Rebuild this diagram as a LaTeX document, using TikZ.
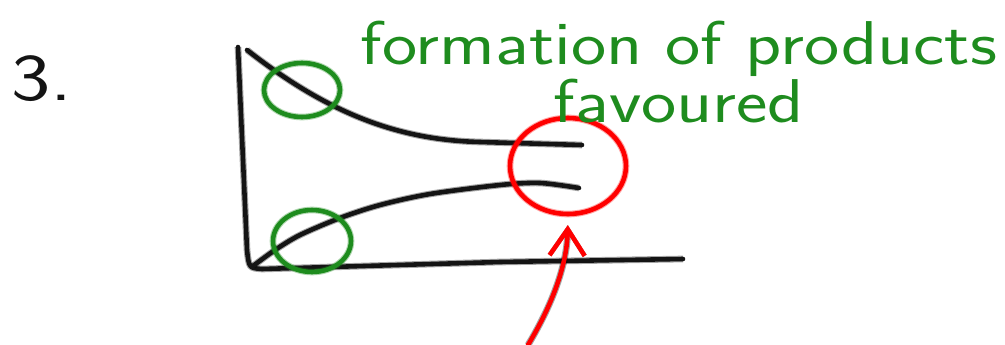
\documentclass[tikz,border=0pt]{standalone}
\usepackage{tikz}
\usetikzlibrary{arrows.meta,shapes.geometric}
\usepackage{xcolor}

\definecolor{penblack}{RGB}{20,20,20}
\definecolor{pengreen}{RGB}{30,140,30}
\definecolor{penred}{RGB}{255,0,0}

\tikzset{
  ink/.style={line width=2.6pt, line cap=round, line join=round,
    preaction={draw, line width=3.8pt, opacity=0.35}},
  axisline/.style={ink, draw=penblack},
  curveline/.style={ink, draw=penblack},
  greenring/.style={ellipse, draw=pengreen, ink, inner sep=0pt},
  redring/.style={ellipse, draw=penred, ink, inner sep=0pt},
}

\begin{document}
\begin{tikzpicture}[x=0.02cm,y=0.02cm,>=Stealth]
  \useasboundingbox (0,0) rectangle (1005,-345);
  % question number
  \node[font=\sffamily\fontsize{38}{40}\selectfont, text=penblack, xscale=1.25, transform shape] (qnum) at (42,-79) {3.};
  % axes
  \draw[axisline] (238,-47) -- (247,-250) .. controls (249,-268) .. (262,-269) -- (500,-262) -- (683,-259);
  % reactant curve (falls)
  \draw[curveline] (247,-50) .. controls (330,-115) and (400,-140) .. (480,-142) -- (582,-145);
  % product curve (rises)
  \draw[curveline] plot[smooth] coordinates {(253,-266) (275,-250) (300,-235) (340,-218) (380,-205) (430,-194) (500,-185) (540,-183) (579,-188)};
  % circles
  \node[greenring, minimum width=1.52cm, minimum height=1.08cm] (ringtop) at (302,-90) {};
  \node[greenring, minimum width=1.56cm, minimum height=1.24cm] (ringbottom) at (312,-241) {};
  \node[redring, minimum width=2.32cm, minimum height=1.92cm] (favring) at (568,-166) {};
  % label
  \node[font=\sffamily\fontsize{32}{30}\selectfont, text=pengreen, align=center, xscale=1.33, yscale=1.1, transform shape] (favlabel) at (679,-72)
    {formation of products\\favoured};
  % arrow
  \coordinate (arrowfoot) at (528,-345);
  \draw[ink, draw=penred, -{Straight Barb[length=15pt, width=20pt, line width=2.6pt]}, shorten >=5pt]
    (arrowfoot) .. controls (555,-300) and (567,-262) .. (favring.south);
\end{tikzpicture}
\end{document}
